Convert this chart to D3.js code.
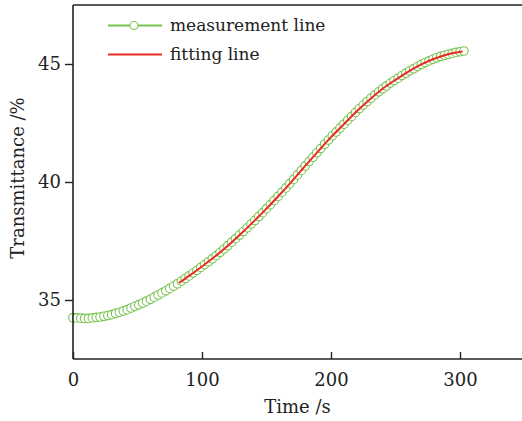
<!DOCTYPE html>
<html>
<head>
<meta charset="utf-8">
<script src="https://d3js.org/d3.v7.min.js"></script>
<style>
	body { margin: 0; background: #fff; }
	text { font-family: "DejaVu Serif", serif; fill: #222; }
</style>
</head>
<body>
<script>

// measurement points (time in s, transmittance in %)
var measTime = [0,3,6,9,12,15,18,21,24,27,30,33,36,39,42,45,48,51,54,57,60,63,66,69,72,75,78,81,84,87,
	90,93,96,99,102,105,108,111,114,117,120,123,126,129,132,135,138,141,144,147,150,153,156,159,162,165,168,171,174,177,
	180,183,186,189,192,195,198,201,204,207,210,213,216,219,222,225,228,231,234,237,240,243,246,249,252,255,258,261,264,267,
	270,273,276,279,282,285,288,291,294,297,300,303];
var measValue = [34.25,34.24,34.23,34.22,34.22,34.24,34.26,34.28,34.31,34.34,34.38,34.43,34.48,34.53,34.59,34.66,34.73,34.80,34.87,34.95,
	35.03,35.12,35.21,35.30,35.39,35.49,35.59,35.69,35.80,35.91,36.02,36.14,36.26,36.38,36.50,36.62,36.75,36.88,37.02,37.16,
	37.30,37.45,37.60,37.75,37.90,38.06,38.22,38.37,38.54,38.70,38.87,39.04,39.22,39.39,39.57,39.75,39.93,40.11,40.30,40.49,
	40.68,40.87,41.05,41.24,41.42,41.60,41.78,41.96,42.12,42.29,42.45,42.62,42.78,42.95,43.11,43.26,43.41,43.55,43.69,43.82,
	43.95,44.07,44.19,44.30,44.40,44.51,44.61,44.71,44.80,44.89,44.98,45.06,45.13,45.20,45.26,45.32,45.37,45.41,45.45,45.49,
	45.52,45.55];

// fitting line
var fitTime = [82,90,100,110,120,130,140,150,160,170,180,190,200,210,220,230,240,250,260,270,280,290,302];
var fitValue = [35.72,36.02,36.42,36.84,37.30,37.80,38.32,38.87,39.45,40.05,40.68,41.30,41.90,42.45,43.00,43.50,43.95,44.33,44.68,44.98,45.22,45.40,45.53];

var xTicks = [0, 100, 200, 300];
var yTicks = [35, 40, 45];
var legendLabels = ["measurement line", "fitting line"];

var width = 522, height = 421;
var padLeft = 73, padTop = 5, padBottom = 359;
var green = "#78c250", red = "#e82a20";

var svg = d3.select("body").append("svg")
	.attr("width", width)
	.attr("height", height);

var x = d3.scaleLinear().domain([0, 350]).range([padLeft, padLeft + 350 * 1.29]);
var y = d3.scaleLinear().domain([32.5, 47.5]).range([padBottom, padTop]);

var meas = measTime.map(function(t, i) { return [t, measValue[i]]; });
var fit = fitTime.map(function(t, i) { return [t, fitValue[i]]; });

// measurement circles
svg.append("g").selectAll("circle")
	.data(meas)
	.enter()
	.append("circle")
	.attr("cx", function(d) { return x(d[0]); })
	.attr("cy", function(d) { return y(d[1]); })
	.attr("r", 4.3)
	.attr("fill", "#fff")
	.attr("stroke", green)
	.attr("stroke-width", 1.1);

// fitting line
var line = d3.line()
	.x(function(d) { return x(d[0]); })
	.y(function(d) { return y(d[1]); })
	.curve(d3.curveMonotoneX);

svg.append("path")
	.datum(fit)
	.attr("d", line)
	.attr("fill", "none")
	.attr("stroke", red)
	.attr("stroke-width", 2);

// axes
var xAxis = svg.append("g")
	.attr("transform", "translate(0," + padBottom + ")")
	.call(d3.axisBottom(x).tickValues(xTicks).tickSizeInner(-7).tickSizeOuter(0).tickPadding(14));
var yAxis = svg.append("g")
	.attr("transform", "translate(" + padLeft + ",0)")
	.call(d3.axisLeft(y).tickValues(yTicks).tickSizeInner(8).tickSizeOuter(0).tickPadding(4));

[xAxis, yAxis].forEach(function(a) {
	a.select(".domain").attr("stroke", "#222").attr("stroke-width", 1.6);
	a.selectAll(".tick line").attr("stroke", "#222").attr("stroke-width", 1.4);
	a.selectAll(".tick text").style("font-family", "DejaVu Serif").style("font-size", "18px").attr("fill", "#222");
});
xAxis.select(".domain").attr("d", "M" + padLeft + ",0H" + width);
yAxis.select(".domain").attr("d", "M0," + padBottom + "V" + padTop);

// top frame line
svg.append("line")
	.attr("x1", padLeft).attr("x2", width)
	.attr("y1", padTop).attr("y2", padTop)
	.attr("stroke", "#222").attr("stroke-width", 1.6);

// axis titles
svg.append("text")
	.attr("x", (padLeft + width) / 2)
	.attr("y", 413)
	.attr("text-anchor", "middle")
	.style("font-size", "18px")
	.text("Time /s");

svg.append("text")
	.attr("transform", "translate(24," + ((padTop + padBottom) / 2 - 4) + ") rotate(-90)")
	.attr("text-anchor", "middle")
	.style("font-size", "18px")
	.text("Transmittance /%");

// legend
var legend = svg.append("g");
legend.append("line")
	.attr("x1", 108).attr("x2", 162).attr("y1", 25.5).attr("y2", 25.5)
	.attr("stroke", green).attr("stroke-width", 2);
legend.append("circle")
	.attr("cx", 134).attr("cy", 25.5).attr("r", 4)
	.attr("fill", "#fff").attr("stroke", green).attr("stroke-width", 1.1);
legend.append("line")
	.attr("x1", 108).attr("x2", 162).attr("y1", 54.5).attr("y2", 54.5)
	.attr("stroke", red).attr("stroke-width", 2);
legend.selectAll("text.lab")
	.data(legendLabels)
	.enter()
	.append("text")
	.attr("class", "lab")
	.attr("x", 170)
	.attr("y", function(d, i) { return 31 + i * 29; })
	.style("font-size", "17px")
	.text(function(d) { return d; });

</script>
</body>
</html>
